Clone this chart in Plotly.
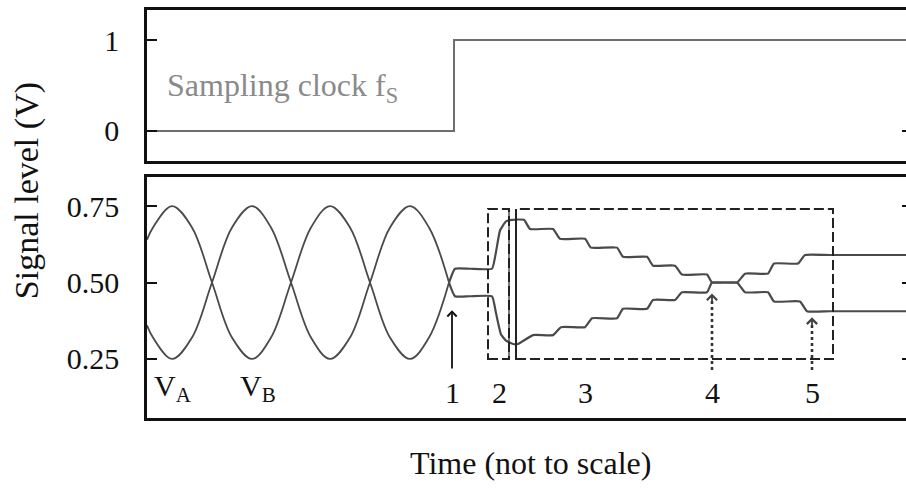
import plotly.graph_objects as go

# ---------------- data (time axis is arbitrary, "not to scale") ----------------
clock_t = [147, 454, 906]
clock_v = [0, 1, 1]

wave_t = [147, 153, 172, 192, 212, 232, 252, 271, 291, 311, 330, 350, 370, 390, 410, 429, 449]
va_wave = [0.64, 0.68, 0.75, 0.68, 0.50, 0.32, 0.25, 0.32, 0.50, 0.68, 0.75, 0.68, 0.50, 0.32, 0.25, 0.32, 0.50]
vb_wave = [0.36, 0.32, 0.25, 0.32, 0.50, 0.68, 0.75, 0.68, 0.50, 0.32, 0.25, 0.32, 0.50, 0.68, 0.75, 0.68, 0.50]

va_t = [449, 455, 470, 492, 496, 500, 506, 512, 524, 530, 553, 560, 585, 591, 617, 623, 647, 653, 675,
        682, 707, 712, 737, 745, 768, 774, 800, 807, 830, 906]
va_settle = [0.50, 0.545, 0.545, 0.545, 0.60, 0.67, 0.70, 0.705, 0.705, 0.675, 0.675, 0.643, 0.643, 0.614, 0.614,
             0.584, 0.584, 0.555, 0.555, 0.526, 0.526, 0.50, 0.50, 0.468, 0.468, 0.438, 0.438, 0.406, 0.406, 0.406]

vb_t = [449, 455, 470, 492, 496, 501, 506, 513, 518, 533, 553, 561, 585, 592, 617, 623, 647, 653, 675,
        682, 707, 712, 737, 745, 768, 774, 798, 805, 830, 906]
vb_settle = [0.50, 0.455, 0.455, 0.455, 0.40, 0.33, 0.31, 0.299, 0.299, 0.328, 0.328, 0.354, 0.354, 0.383, 0.383,
             0.414, 0.414, 0.443, 0.443, 0.468, 0.468, 0.50, 0.50, 0.529, 0.529, 0.562, 0.562, 0.590, 0.590, 0.590]

top_ticks = [0, 1]
bottom_ticks = [0.25, 0.50, 0.75]
bottom_ticktext = ["0.25", "0.50", "0.75"]

# phase boxes (x0, x1, y0, y1)
box2 = [488, 509, 0.25, 0.74]
box3 = [516, 833, 0.25, 0.74]

# arrows: (x, tail value, head value, dotted?)
arrows = [(452, 0.214, 0.409, False), (712, 0.214, 0.464, True), (812, 0.214, 0.386, True)]
phase_labels = ["1", "2", "3", "4", "5"]
phase_label_x = [452, 499, 585, 712, 812]
phase_label_y = 0.142

FONT = "Liberation Serif"
SIG = "#4a4a4a"

fig = go.Figure()

fig.add_trace(go.Scatter(x=clock_t, y=clock_v, mode="lines", line=dict(color="#6e6e6e", width=2, shape="hv"),
                         xaxis="x", yaxis="y", hoverinfo="skip"))
fig.add_trace(go.Scatter(x=wave_t, y=va_wave, mode="lines", line=dict(color=SIG, width=1.8, shape="spline", smoothing=1.0),
                         xaxis="x2", yaxis="y2", hoverinfo="skip"))
fig.add_trace(go.Scatter(x=wave_t, y=vb_wave, mode="lines", line=dict(color=SIG, width=1.8, shape="spline", smoothing=1.0),
                         xaxis="x2", yaxis="y2", hoverinfo="skip"))
fig.add_trace(go.Scatter(x=va_t, y=va_settle, mode="lines", line=dict(color=SIG, width=2.2, shape="spline", smoothing=0.4),
                         xaxis="x2", yaxis="y2", hoverinfo="skip"))
fig.add_trace(go.Scatter(x=vb_t, y=vb_settle, mode="lines", line=dict(color=SIG, width=2.2, shape="spline", smoothing=0.4),
                         xaxis="x2", yaxis="y2", hoverinfo="skip"))
# dummy traces so the right-hand tick axes are drawn
fig.add_trace(go.Scatter(x=[None], y=[None], xaxis="x", yaxis="y3", hoverinfo="skip"))
fig.add_trace(go.Scatter(x=[None], y=[None], xaxis="x2", yaxis="y4", hoverinfo="skip"))

TOP_RANGE = [-0.33, 1.33]
BOT_RANGE = [0.057, 0.845]

common_x = dict(range=[147, 906], showline=True, mirror=True, linewidth=2.5, linecolor="#111",
                ticks="", showticklabels=False, showgrid=False, zeroline=False, fixedrange=True)
common_y = dict(showline=True, linewidth=2.5, linecolor="#111", ticks="inside", ticklen=10, tickwidth=2,
                tickcolor="#111", showgrid=False, zeroline=False, ticklabelstandoff=19,
                tickfont=dict(family=FONT, size=30, color="#111"))

fig.update_layout(
    width=906, height=489,
    margin=dict(l=147, r=0, t=10, b=71),
    paper_bgcolor="white", plot_bgcolor="white",
    showlegend=False,
    xaxis=dict(domain=[0, 1], anchor="y", **common_x),
    xaxis2=dict(domain=[0, 1], anchor="y2", matches="x", **common_x),
    yaxis=dict(domain=[0.630, 1], anchor="x", range=TOP_RANGE, tickvals=top_ticks, **common_y),
    yaxis2=dict(domain=[0, 0.5907], anchor="x2", range=BOT_RANGE, tickvals=bottom_ticks,
                ticktext=bottom_ticktext, **common_y),
    yaxis3=dict(overlaying="y", side="right", anchor="x", range=TOP_RANGE, tickvals=[0], ticks="inside",
                ticklen=4, tickwidth=2, tickcolor="#111", showticklabels=False, showline=False,
                showgrid=False, zeroline=False),
    yaxis4=dict(overlaying="y2", side="right", anchor="x2", range=BOT_RANGE, tickvals=bottom_ticks,
                ticks="inside", ticklen=4, tickwidth=2, tickcolor="#111", showticklabels=False,
                showline=False, showgrid=False, zeroline=False),
)

# boxes
for b in (box2, box3):
    fig.add_shape(type="rect", xref="x2", yref="y2", x0=b[0], x1=b[1], y0=b[2], y1=b[3],
                  line=dict(color="#222", width=2, dash="10px,4px"))
fig.add_shape(type="line", xref="x2", yref="y2", x0=box2[1], x1=box2[1], y0=box2[2], y1=box2[3],
              line=dict(color="#222", width=1.2))
fig.add_shape(type="line", xref="x2", yref="y2", x0=box3[0], x1=box3[0], y0=box3[2], y1=box3[3],
              line=dict(color="#222", width=2))

# arrows
for (ax_, tail, head, dotted) in arrows:
    if dotted:
        fig.add_shape(type="line", xref="x2", yref="y2", x0=ax_, x1=ax_, y0=tail, y1=head - 0.01,
                      line=dict(color="#333", width=2.6, dash="dot"))
        fig.add_annotation(x=ax_, y=head, ax=ax_, ay=head - 0.03, xref="x2", yref="y2", axref="x2", ayref="y2",
                           text="", showarrow=True, arrowhead=4, arrowsize=1.1, arrowwidth=1.8, arrowcolor="#444")
    else:
        fig.add_annotation(x=ax_, y=head, ax=ax_, ay=tail, xref="x2", yref="y2", axref="x2", ayref="y2",
                           text="", showarrow=True, arrowhead=4, arrowsize=1.0, arrowwidth=1.8, arrowcolor="#111")

for lbl, lx in zip(phase_labels, phase_label_x):
    fig.add_annotation(x=lx, y=phase_label_y, xref="x2", yref="y2", text=lbl, showarrow=False,
                       xanchor="center", yanchor="middle",
                       font=dict(family=FONT, size=30, color="#111"))

fig.add_annotation(x=152, y=0.155, xref="x2", yref="y2", text="V<sub>A</sub>", showarrow=False, xanchor="left",
                   yanchor="middle", font=dict(family=FONT, size=30, color="#111"))
fig.add_annotation(x=238, y=0.155, xref="x2", yref="y2", text="V<sub>B</sub>", showarrow=False, xanchor="left",
                   yanchor="middle", font=dict(family=FONT, size=30, color="#111"))
fig.add_annotation(x=165, y=0.473, xref="x", yref="y", text="Sampling clock f<sub>S</sub>", showarrow=False,
                   xanchor="left", yanchor="middle", font=dict(family=FONT, size=32, color="#8a8a8a"))

fig.add_annotation(x=(27 - 147) / 759, y=0.556, xref="paper", yref="paper", text="Signal level (V)",
                   textangle=-90, showarrow=False, xanchor="center", yanchor="middle",
                   font=dict(family=FONT, size=34, color="#111"))
fig.add_annotation(x=(530 - 147) / 759, y=-0.110, xref="paper", yref="paper", text="Time (not to scale)",
                   showarrow=False, xanchor="center", yanchor="middle",
                   font=dict(family=FONT, size=32, color="#111"))

fig.write_html("out.html", config={"displayModeBar": False},
               post_script="document.body.style.margin='0';document.body.style.overflow='hidden';")
